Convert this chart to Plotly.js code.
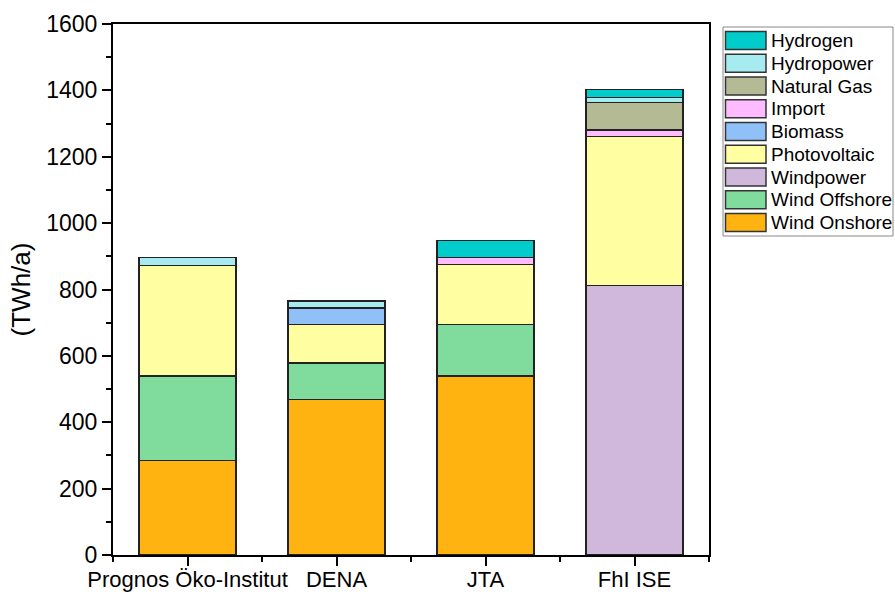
<!DOCTYPE html>
<html>
<head>
<meta charset="utf-8">
<script src="https://cdn.plot.ly/plotly-3.0.1.min.js"></script>
<style>html,body{margin:0;padding:0;background:#fff;}#chart{width:895px;height:595px;}</style>
</head>
<body>
<div id="chart"></div>
<script>
// Categories (studies)
const categories = ["Prognos Öko-Institut", "DENA", "JTA", "FhI ISE"];

// Series values in TWh/a (order: bottom to top of stack)
const windOnshore  = [285, 468, 540, 0];
const windOffshore = [255, 111, 154, 0];
const windpower    = [0, 0, 0, 812];
const photovoltaic = [333, 116, 181, 449];
const biomass      = [0, 50, 0, 0];
const importEl     = [0, 0, 21, 19];
const naturalGas   = [0, 0, 0, 83];
const hydropower   = [24, 20, 0, 16];
const hydrogen     = [0, 0, 52, 23];

const seriesNames  = ["Wind Onshore", "Wind Offshore", "Windpower", "Photovoltaic", "Biomass", "Import", "Natural Gas", "Hydropower", "Hydrogen"];
const seriesValues = [windOnshore, windOffshore, windpower, photovoltaic, biomass, importEl, naturalGas, hydropower, hydrogen];
const seriesColors = ["#FFB310", "#80DC9C", "#CFB8DC", "#FFFFA2", "#90C0F8", "#FFBBFF", "#B4BB94", "#A6EBF0", "#00CCCC"];

const xIdx = categories.map((c, i) => i);

const traces = seriesNames.map((name, k) => ({
  type: "bar",
  name: name,
  x: xIdx,
  y: seriesValues[k],
  width: 0.65,
  marker: { color: seriesColors[k], line: { color: "#222", width: 1.5 } },
  showlegend: false,
  hoverinfo: "name+y"
}));

// Plot area in pixels
const mL = 113, mR = 186, mT = 24, mB = 40;
const W = 895, H = 595;
const plotW = W - mL - mR, plotH = H - mT - mB;
const px = x => (x - mL) / plotW, py = y => (H - mB - y) / plotH;

// Manual legend (top item = last series)
const shapes = [];
const annotations = [];
const legLeft = 723, legTop = 27, legRight = 893, legBottom = 236;
shapes.push({type: "rect", xref: "paper", yref: "paper", x0: px(legLeft), x1: px(legRight), y0: py(legBottom), y1: py(legTop),
  line: {color: "#888", width: 1}, fillcolor: "rgba(0,0,0,0)"});
const legOrder = seriesNames.map((n, i) => i).reverse();
legOrder.forEach((k, j) => {
  const yTop = 31.5 + j * 22.75;
  shapes.push({type: "rect", xref: "paper", yref: "paper", x0: px(725.5), x1: px(766), y0: py(yTop + 18), y1: py(yTop),
    line: {color: "#333", width: 1.5}, fillcolor: seriesColors[k]});
  annotations.push({xref: "paper", yref: "paper", x: px(769), y: py(yTop + 9), xanchor: "left", yanchor: "middle",
    text: seriesNames[k], showarrow: false, font: {family: "Liberation Sans, Arial, sans-serif", size: 19, color: "#000"}});
});

const layout = {
  width: W, height: H,
  margin: {l: mL, r: mR, t: mT, b: mB},
  paper_bgcolor: "#fff", plot_bgcolor: "#fff",
  barmode: "stack",
  showlegend: false,
  font: {family: "Liberation Sans, Arial, sans-serif", color: "#000"},
  xaxis: {
    range: [-0.5, 3.5],
    tickvals: xIdx, ticktext: categories,
    ticks: "outside", ticklen: 9, tickwidth: 2, tickcolor: "#000",
    ticklabelstandoff: -5,
    minor: {dtick: 0.5, tick0: 0, ticks: "outside", ticklen: 5, tickwidth: 2, tickcolor: "#000"},
    showline: true, linecolor: "#000", linewidth: 2, mirror: true,
    showgrid: false, zeroline: false,
    tickfont: {size: 22}
  },
  yaxis: {
    range: [0, 1600], dtick: 200,
    ticks: "outside", ticklen: 9, tickwidth: 2, tickcolor: "#000",
    minor: {dtick: 100, ticks: "outside", ticklen: 5, tickwidth: 2, tickcolor: "#000"},
    showline: true, linecolor: "#000", linewidth: 2, mirror: true,
    showgrid: false, zeroline: false,
    tickfont: {size: 23},
    title: {text: "(TWh/a)", font: {size: 26}, standoff: 8}
  },
  shapes: shapes,
  annotations: annotations
};

Plotly.newPlot("chart", traces, layout, {displayModeBar: false, staticPlot: true});
</script>
</body>
</html>
